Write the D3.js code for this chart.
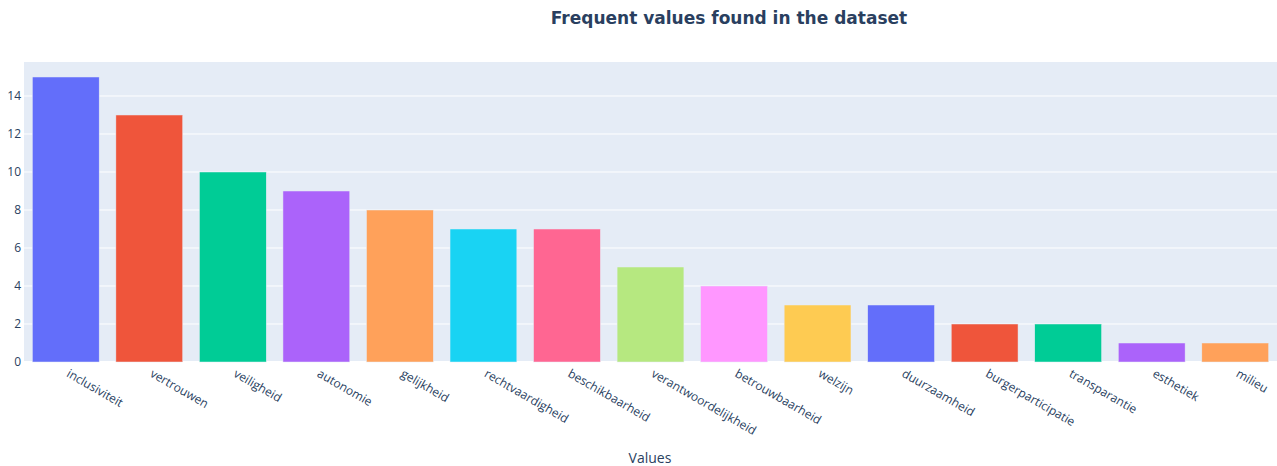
<!DOCTYPE html>
<html><head><meta charset="utf-8">
<script src="https://cdn.jsdelivr.net/npm/d3@7"></script>
<style>body{margin:0;background:#fff;} svg{display:block;}</style>
</head><body>
<svg id="c" width="1277" height="466"></svg>
<script>
const categories = ["inclusiviteit","vertrouwen","veiligheid","autonomie","gelijkheid","rechtvaardigheid","beschikbaarheid","verantwoordelijkheid","betrouwbaarheid","welzijn","duurzaamheid","burgerparticipatie","transparantie","esthetiek","milieu"];
const counts = [15,13,10,9,8,7,7,5,4,3,3,2,2,1,1];
const palette = ["#636efa","#EF553B","#00cc96","#ab63fa","#FFA15A","#19d3f3","#FF6692","#B6E880","#FF97FF","#FECB52"];
const yTicks = [0,2,4,6,8,10,12,14];
const titleText = "Frequent values found in the dataset";
const xTitle = "Values";

const svg = d3.select("#c");
const m = {left:24, right:1277, top:62, bottom:362};
const x = d3.scaleBand().domain(categories).range([m.left, m.right]).paddingInner(0.2).paddingOuter(0.1);
const y = d3.scaleLinear().domain([0, d3.max(counts)*1.0526]).range([m.bottom, m.top]);
const font = "'Open Sans', verdana, arial, sans-serif";

svg.append("rect").attr("x", m.left).attr("y", m.top).attr("width", m.right-m.left).attr("height", m.bottom-m.top).attr("fill", "#E5ECF6");

svg.append("g").selectAll("line").data(yTicks).join("line")
  .attr("x1", m.left).attr("x2", m.right)
  .attr("y1", d=>y(d)).attr("y2", d=>y(d))
  .attr("stroke", "#fff").attr("stroke-width", d=>d===0?2:1);

svg.append("g").selectAll("rect").data(counts).join("rect")
  .attr("x", (d,i)=>x(categories[i]))
  .attr("width", x.bandwidth())
  .attr("y", d=>y(d))
  .attr("height", d=>y(0)-y(d))
  .attr("fill", (d,i)=>palette[i%palette.length])
  .attr("stroke", "#E5ECF6").attr("stroke-width", 0.5);

svg.append("g").selectAll("text").data(yTicks).join("text")
  .attr("x", m.left-3).attr("y", d=>y(d)).attr("dy", "0.35em")
  .attr("text-anchor", "end").attr("font-family", font).attr("font-size", 12).attr("fill", "#2a3f5f")
  .text(d=>d);

svg.append("g").selectAll("text").data(categories).join("text")
  .attr("transform", d=>`translate(${x(d)+x.bandwidth()/2},${m.bottom+14}) rotate(30)`)
  .attr("text-anchor", "start").attr("font-family", font).attr("font-size", 12).attr("fill", "#2a3f5f")
  .text(d=>d);

svg.append("text").attr("x", 650).attr("y", 463).attr("text-anchor", "middle")
  .attr("font-family", font).attr("font-size", 14).attr("fill", "#2a3f5f").text(xTitle);

svg.append("text").attr("x", 729).attr("y", 24).attr("text-anchor", "middle")
  .attr("font-family", "Verdana, 'DejaVu Sans', sans-serif").attr("font-weight", "bold").attr("font-size", 17).attr("fill", "#2a3f5f").text(titleText);
</script>
</body></html>
